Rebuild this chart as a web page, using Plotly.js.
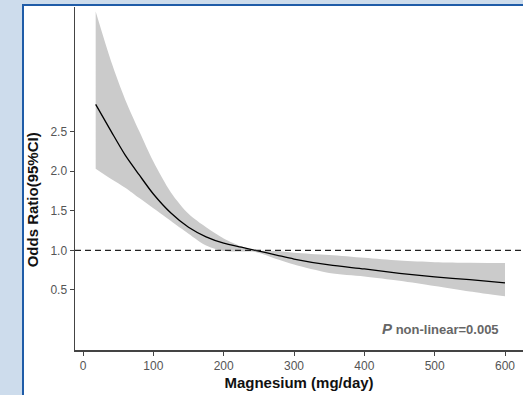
<!DOCTYPE html>
<html>
<head>
<meta charset="utf-8">
<script src="https://cdn.plot.ly/plotly-3.0.1.min.js"></script>
<style>
html,body{margin:0;padding:0;width:523px;height:395px;overflow:hidden;background:#cddcec;}
#frame{position:absolute;left:22px;top:4px;width:501px;height:391px;background:#ffffff;border-left:2px solid #1f5ca8;border-top:2px solid #1f5ca8;}
#chart{position:absolute;left:0;top:0;width:523px;height:395px;}
</style>
</head>
<body>
<div id="frame"></div>
<div id="chart"></div>
<script>
// Magnesium intake (mg/day)
const magnesium = [18, 40, 60, 80, 100, 125, 150, 175, 200, 225, 245, 275, 300, 350, 400, 450, 500, 550, 600];
// Odds ratio estimate
const oddsRatio = [2.84, 2.50, 2.20, 1.95, 1.71, 1.47, 1.29, 1.17, 1.09, 1.04, 1.00, 0.94, 0.89, 0.815, 0.765, 0.71, 0.665, 0.63, 0.59];
// 95% CI upper
const ciUpper = [4.01, 3.38, 2.90, 2.50, 2.12, 1.73, 1.46, 1.29, 1.15, 1.05, 1.00, 0.99, 0.97, 0.94, 0.905, 0.87, 0.85, 0.843, 0.84];
// 95% CI lower
const ciLower = [2.03, 1.90, 1.79, 1.66, 1.53, 1.37, 1.21, 1.06, 0.99, 0.985, 0.98, 0.89, 0.82, 0.714, 0.67, 0.616, 0.55, 0.48, 0.42];
const refValue = 1;
const xTicks = [0, 100, 200, 300, 400, 500, 600];
const yTicks = [0.5, 1.0, 1.5, 2.0, 2.5];
const yTickText = ["0.5", "1.0", "1.5", "2.0", "2.5"];

const traces = [
  {x: magnesium, y: ciLower, type: 'scatter', mode: 'lines',
   line: {width: 0, color: 'rgba(0,0,0,0)', shape: 'spline', smoothing: 0.8}, hoverinfo: 'skip', showlegend: false},
  {x: magnesium, y: ciUpper, type: 'scatter', mode: 'lines', fill: 'tonexty', fillcolor: '#cbcbcb',
   line: {width: 0, color: 'rgba(0,0,0,0)', shape: 'spline', smoothing: 0.8}, hoverinfo: 'skip', showlegend: false},
  {x: magnesium, y: oddsRatio, type: 'scatter', mode: 'lines',
   line: {color: '#000000', width: 1.3, shape: 'spline', smoothing: 0.8}, showlegend: false}
];

const font = "'Liberation Sans', Arial, sans-serif";
const layout = {
  width: 523, height: 395,
  margin: {l: 75, r: 0, t: 7, b: 45, pad: 0},
  paper_bgcolor: 'rgba(0,0,0,0)',
  plot_bgcolor: 'rgba(0,0,0,0)',
  font: {family: font},
  xaxis: {
    range: [-11.4, 625.6], tickvals: xTicks, ticks: 'outside', ticklen: 4, tickwidth: 1, tickcolor: '#444',
    showline: true, linecolor: '#444', linewidth: 1.5, showgrid: false, zeroline: false,
    tickfont: {size: 12, color: '#555', family: font},
    title: {text: '<b>Magnesium (mg/day)</b>', font: {size: 15, color: '#111', family: font}, standoff: 5}
  },
  yaxis: {
    range: [-0.257, 4.068], tickvals: yTicks, ticktext: yTickText, ticks: 'outside', ticklen: 4, tickwidth: 1, tickcolor: '#444',
    showline: true, linecolor: '#444', linewidth: 1.5, showgrid: false, zeroline: false,
    tickfont: {size: 12, color: '#555', family: font}
  },
  shapes: [
    {type: 'line', xref: 'paper', x0: 0, x1: 1, yref: 'y', y0: refValue, y1: refValue,
     line: {color: '#222', width: 1.3, dash: '6px,4px'}}
  ],
  annotations: [
    {xref: 'paper', yref: 'paper', x: 0.951, y: 0.064, xanchor: 'right', yanchor: 'middle', showarrow: false,
     text: '<b><i><span style="font-size:15px">P</span></i> non-linear=0.005</b>',
     font: {size: 13, color: '#666', family: font}},
    {xref: 'paper', yref: 'paper', x: -0.094, y: 0.439, xanchor: 'center', yanchor: 'middle', showarrow: false,
     textangle: -90, text: '<b>Odds Ratio(95%CI)</b>',
     font: {size: 15, color: '#111', family: font}}
  ]
};

Plotly.newPlot('chart', traces, layout, {displayModeBar: false, staticPlot: true});
</script>
</body>
</html>
